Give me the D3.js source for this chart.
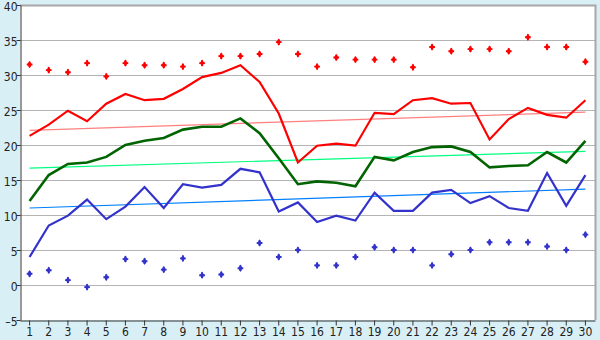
<!doctype html>
<html>
<head>
<meta charset="utf-8">
<script src="https://d3js.org/d3.v7.min.js"></script>
<style>
  body { margin: 0; background: #d9eff6; }
  svg { display: block; font-family: "DejaVu Sans Condensed", "DejaVu Sans", sans-serif; }
</style>
</head>
<body>
<script>
    var days = d3.range(1, 31);

    var highLine = [21.3, 22.9, 24.9, 23.4, 25.9, 27.3, 26.4, 26.6, 28.0, 29.7,
                    30.3, 31.4, 29.0, 24.5, 17.5, 19.9, 20.2, 19.9, 24.6, 24.4,
                    26.4, 26.7, 25.9, 26.0, 20.8, 23.7, 25.3, 24.3, 23.9, 26.4];
    var meanLine = [12.0, 15.7, 17.3, 17.5, 18.3, 20.0, 20.6, 21.0, 22.2, 22.6,
                    22.6, 23.8, 21.7, 18.1, 14.4, 14.8, 14.6, 14.1, 18.3, 17.8,
                    19.0, 19.7, 19.8, 19.0, 16.8, 17.0, 17.1, 19.0, 17.5, 20.6];
    var lowLine = [4.0, 8.5, 9.9, 12.2, 9.4, 11.2, 14.0, 11.0, 14.4, 13.9,
                   14.3, 16.6, 16.1, 10.5, 11.8, 9.0, 9.9, 9.2, 13.2, 10.6,
                   10.6, 13.2, 13.6, 11.7, 12.7, 11.0, 10.6, 16.0, 11.3, 15.7];
    var highRecord = [31.5, 30.7, 30.4, 31.7, 29.8, 31.7, 31.4, 31.4, 31.2, 31.7,
                      32.7, 32.7, 33.0, 34.7, 33.0, 31.2, 32.5, 32.2, 32.2, 32.2,
                      31.1, 34.0, 33.4, 33.7, 33.7, 33.4, 35.4, 34.0, 34.0, 31.9];
    var lowRecord = [1.6, 2.1, 0.7, -0.3, 1.1, 3.7, 3.4, 2.2, 3.8, 1.4,
                     1.5, 2.4, 6.0, 4.0, 5.0, 2.8, 2.8, 4.0, 5.4, 5.0,
                     5.0, 2.8, 4.4, 5.0, 6.1, 6.1, 6.1, 5.5, 5.0, 7.2];
    // normal lines: value on day 1 and day 30
    var highNormal = [22.1, 24.7];
    var meanNormal = [16.7, 19.1];
    var lowNormal = [11.0, 13.7];
    var yTicks = [-5, 0, 5, 10, 15, 20, 25, 30, 35, 40];

    var width = 600, height = 340;
    var mLeft = 20, mRight = 595, mTop = 5, mBottom = 320;

    var svg = d3.select("body").append("svg")
        .attr("width", width)
        .attr("height", height);

    var x = d3.scaleBand().domain(days).range([mLeft, mRight]);
    var xc = function(d) { return x(d) + x.bandwidth() / 2; };
    var y = d3.scaleLinear().domain([-5, 40]).range([mBottom, mTop]);

    svg.append("rect")
        .attr("x", mLeft).attr("y", mTop)
        .attr("width", mRight - mLeft).attr("height", mBottom - mTop)
        .attr("fill", "#fff");

    // grid
    svg.append("g").selectAll("line")
        .data(yTicks.slice(1, -1))
        .enter().append("line")
        .attr("x1", mLeft).attr("x2", mRight)
        .attr("y1", function(d) { return Math.round(y(d)) + 0.5; })
        .attr("y2", function(d) { return Math.round(y(d)) + 0.5; })
        .attr("stroke", "#b4b4b4");

    // border top / right
    svg.append("path")
        .attr("d", "M" + mLeft + "," + (mTop + 0.5) + "H" + (mRight + 0.5) + "V" + mBottom)
        .attr("fill", "none")
        .attr("stroke", "#a8a8a8")
        .attr("stroke-width", 2);

    function lineOf(vals) {
        return d3.line()
            .x(function(d, i) { return xc(days[i]); })
            .y(function(d) { return y(d); })(vals);
    }

    function trend(ends, color) {
        svg.append("line")
            .attr("x1", xc(1)).attr("x2", xc(30))
            .attr("y1", y(ends[0])).attr("y2", y(ends[1]))
            .attr("stroke", color)
            .attr("stroke-width", 1.2);
    }
    trend(highNormal, "#ff7f7f");
    trend(meanNormal, "#00ff80");
    trend(lowNormal, "#0080ff");

    svg.append("path").attr("d", lineOf(lowLine))
        .attr("fill", "none").attr("stroke", "#3333cc").attr("stroke-width", 2.2);
    svg.append("path").attr("d", lineOf(meanLine))
        .attr("fill", "none").attr("stroke", "#006400").attr("stroke-width", 2.6);
    svg.append("path").attr("d", lineOf(highLine))
        .attr("fill", "none").attr("stroke", "#ff0000").attr("stroke-width", 2.2);

    function markers(vals, color) {
        var g = svg.append("g");
        g.selectAll("path.d")
            .data(vals).enter().append("path")
            .attr("transform", function(d, i) { return "translate(" + xc(days[i]) + "," + y(d) + ")"; })
            .attr("d", d3.symbol(d3.symbolDiamond, 16))
            .attr("fill", color);
        g.selectAll("path.c")
            .data(vals).enter().append("path")
            .attr("transform", function(d, i) { return "translate(" + xc(days[i]) + "," + y(d) + ")"; })
            .attr("d", d3.symbol(d3.symbolCross, 18))
            .attr("fill", color);
    }
    markers(highRecord, "#ff0000");
    markers(lowRecord, "#3333cc");

    // axes
    var yAxis = d3.axisLeft(y).tickValues(yTicks).tickSize(4).tickSizeOuter(0).tickFormat(function(d) { return d < 0 ? "\u2013" + (-d) : d; });
    svg.append("g")
        .attr("transform", "translate(" + (mLeft + 0.5) + ",0)")
        .call(yAxis)
        .call(function(g) {
            g.select(".domain").attr("stroke", "#333");
            g.selectAll(".tick line").attr("stroke", "#333");
            g.selectAll("text").attr("font-size", 12).attr("fill", "#222").attr("x", -3).attr("dy", "0.45em")
                .attr("font-family", "DejaVu Sans Condensed, DejaVu Sans");
        });

    var xAxis = d3.axisBottom(x).tickSize(5).tickSizeOuter(0);
    svg.append("g")
        .attr("transform", "translate(0," + (mBottom + 0.5) + ")")
        .call(xAxis)
        .call(function(g) {
            g.select(".domain").attr("stroke", "#333");
            g.selectAll(".tick line").attr("stroke", "#333");
            g.selectAll("text").attr("font-size", 12).attr("fill", "#222").attr("y", 7)
                .attr("font-family", "DejaVu Sans Condensed, DejaVu Sans");
        });
</script>
</body>
</html>
